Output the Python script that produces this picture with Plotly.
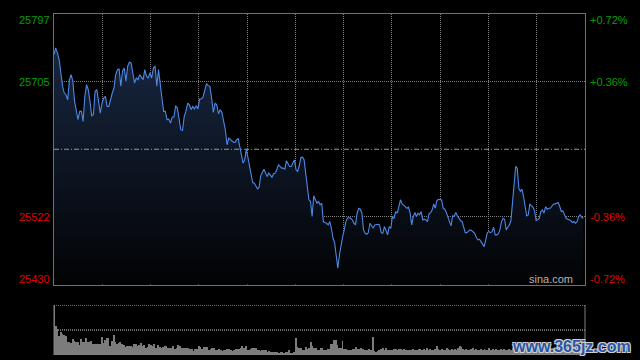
import numpy as np
import plotly.graph_objects as go

PREV_CLOSE = 25613.5
SESSION_MINUTES = 330

# Price readings (index points), morning / midday / afternoon portions
price_am = [25741.9, 25751.0, 25744.2, 25735.1, 25717.0, 25698.9, 25689.8, 25687.5, 25680.7, 25707.9,
            25714.7, 25705.7, 25678.5, 25667.2, 25653.6, 25664.9, 25664.9, 25651.3, 25685.3, 25701.1,
            25694.3, 25678.5, 25659.0, 25660.4, 25692.1, 25694.3, 25678.5, 25662.6, 25676.2, 25683.0,
            25685.3, 25671.7, 25671.7, 25683.0, 25689.8, 25696.6, 25714.7, 25721.5, 25722.4, 25698.9,
            25719.3, 25723.8, 25705.7, 25726.1, 25731.5, 25730.6, 25714.7, 25703.4, 25710.2, 25707.9,
            25714.7, 25710.2, 25707.9, 25721.5, 25712.5, 25710.2, 25717.0, 25710.2, 25723.8, 25726.1,
            25698.9, 25721.5, 25698.9, 25683.0, 25664.9, 25664.9, 25653.6, 25654.5, 25649.0, 25657.2,
            25657.2, 25672.6, 25669.4, 25655.8, 25640.0, 25639.1, 25658.1, 25664.9, 25676.2, 25673.9,
            25667.2, 25671.7, 25668.1, 25672.6, 25668.1, 25681.6, 25681.6, 25684.4, 25692.1, 25702.5,
            25699.8, 25698.9, 25683.0, 25663.5, 25676.2, 25673.9, 25661.7, 25667.2, 25663.5, 25651.3,
            25640.0, 25619.6, 25628.6, 25626.4, 25624.1, 25622.7]
price_mid = [25622.8, 25626.4, 25627.8, 25615.1, 25601.5, 25594.7, 25599.2, 25612.8, 25602.9, 25590.2,
             25576.6, 25568.4, 25567.5, 25563.0, 25559.8, 25562.1, 25577.5, 25582.0, 25586.5, 25581.1,
             25576.6, 25581.1, 25577.5, 25575.7, 25580.2, 25581.1, 25585.6, 25592.4, 25590.2, 25587.9,
             25587.9, 25586.5, 25597.9, 25594.7, 25590.2, 25590.2, 25593.8, 25599.2, 25585.6, 25583.4,
             25591.1, 25602.4, 25602.8, 25599.2, 25581.1, 25563.0, 25544.9, 25542.6, 25522.2, 25550.3,
             25544.9, 25540.3, 25542.6, 25538.1, 25540.3, 25515.4, 25514.1, 25513.1, 25510.9, 25515.4,
             25506.3, 25492.7, 25486.8, 25467.8, 25452.0, 25470.1, 25483.7, 25495.0, 25504.1, 25515.4,
             25519.9, 25520.8, 25519.9, 25517.7, 25513.1, 25510.9, 25526.7, 25533.5, 25532.2, 25526.7,
             25504.1, 25499.5, 25498.2, 25500.5, 25513.1, 25508.6, 25506.3, 25510.9, 25511.8, 25511.8,
             25510.9, 25500.5, 25499.5, 25508.6, 25503.2, 25497.3, 25508.6, 25506.3, 25522.2, 25519.9,
             25529.0, 25526.7, 25535.8, 25544.9, 25539.4, 25538.1, 25535.8, 25533.5, 25534.9, 25527.6]
price_pm = [25510.9, 25522.2, 25527.6, 25522.2, 25526.7, 25524.5, 25529.0, 25517.7, 25518.6, 25517.7,
            25515.4, 25525.8, 25527.6, 25531.3, 25539.4, 25533.5, 25543.9, 25545.7, 25545.7, 25544.8,
            25533.5, 25532.2, 25527.6, 25519.9, 25515.4, 25509.5, 25523.1, 25522.2, 25527.6, 25523.1,
            25519.9, 25516.8, 25515.4, 25506.3, 25500.4, 25500.4, 25501.8, 25504.1, 25503.2, 25501.8,
            25499.5, 25494.1, 25490.5, 25491.4, 25488.2, 25483.7, 25481.4, 25490.5, 25500.4, 25501.8,
            25500.4, 25501.8, 25507.7, 25497.3, 25497.3, 25498.6, 25504.1, 25515.4, 25519.9, 25518.6,
            25504.1, 25507.7, 25510.9, 25516.8, 25540.3, 25567.5, 25590.2, 25587.9, 25560.7, 25556.2,
            25559.3, 25549.4, 25535.8, 25523.1, 25524.5, 25539.4, 25536.7, 25534.9, 25530.3, 25516.8,
            25517.7, 25519.9, 25529.0, 25531.3, 25526.7, 25535.8, 25532.2, 25533.5, 25533.5, 25535.8,
            25539.0, 25539.4, 25540.3, 25541.2, 25535.8, 25529.0, 25529.9, 25525.8, 25519.9, 25518.6,
            25517.7, 25516.8, 25514.1, 25515.4, 25513.1, 25515.4, 25522.2, 25524.5, 25520.8, 25519.9]
# time span (minutes from open) covered by each portion of readings
price_spans = [(0.0, 111.8), (112.5, 221.3), (222.3, 329.0)]

# Volume readings (relative units)
vol_a = [50, 29, 26, 19, 23, 21, 20, 19, 13, 13, 12, 16, 14, 13, 13, 10, 16, 13, 13, 17,
         13, 13, 14, 11, 11, 11, 11, 11, 18, 12, 15, 17, 17, 9, 14, 20, 13, 11, 12, 13,
         11, 10, 8, 9, 9, 9, 8, 11, 11, 9, 10, 12, 9, 10, 7, 8, 11, 10, 9, 11,
         7, 10, 8, 7, 8, 9, 9, 7, 7, 7, 9, 6, 7, 10, 9, 7, 7, 7, 7, 7,
         6, 6, 4, 6, 6, 9, 8, 6, 8, 8, 8, 5, 6, 7, 7, 5, 5, 6]
vol_b = [5, 4, 5, 5, 6, 6, 5, 4, 5, 6, 6, 6, 7, 9, 7, 9, 5, 5, 6, 7,
         7, 7, 5, 5, 4, 5, 5, 5, 3, 4, 3, 3, 3, 3, 3, 2, 3, 3, 2, 3,
         3, 5, 2, 2, 3, 17, 8, 7, 7, 5, 5, 8, 6, 7, 13, 9, 7, 7, 5, 5,
         7, 7, 5, 5, 6, 6, 11, 11, 15, 15, 10, 7, 7, 14, 6, 6, 5, 5, 5, 6,
         6, 8, 6, 6, 7, 6, 5, 5, 5, 6, 5, 18, 4, 3, 4, 5, 6, 7, 5, 7,
         5, 5, 5, 5, 6, 6, 5, 6, 6, 5, 6, 5, 5, 5, 5, 6, 5, 5, 5, 6]
vol_c = [6, 5, 6, 5, 7, 5, 6, 5, 5, 6, 9, 6, 5, 6, 5, 5, 7, 6, 5, 6,
         5, 6, 5, 7, 9, 8, 6, 5, 6, 5, 5, 6, 7, 5, 6, 5, 5, 6, 5, 6,
         5, 5, 7, 5, 6, 5, 6, 5, 5, 6, 5, 6, 5, 5, 6, 5, 7, 5, 6, 5,
         5, 5, 6, 5, 6, 5, 5, 4, 5, 6, 5, 5, 6, 5, 4, 5, 6, 5, 5, 4,
         5, 6, 5, 5, 4, 5, 5, 6, 5, 5, 4, 5, 6, 5, 5, 4, 5, 6, 5, 5]
vol_spans = [(0.0, 102.6), (103.6, 227.0), (227.6, 329.0)]

left_tick_vals = [25797, 25705, 25522, 25430]
right_tick_text = ["+0.72%", "+0.36%", "-0.36%", "-0.72%"]
tick_colors = ["#00a000", "#00a000", "#e00000", "#e00000"]
tick_shift = [-6, 0, 0, 6]
grid_minutes = [30, 60, 90, 120, 150, 180, 210, 240, 270, 300]
VOL_MAX = 50


def times_for(parts, spans):
    out = []
    for part, (a, b) in zip(parts, spans):
        out.extend(np.linspace(a, b, len(part)).tolist())
    return out


prices = price_am + price_mid + price_pm
volumes = vol_a + vol_b + vol_c
t_price = times_for([price_am, price_mid, price_pm], price_spans)
t_vol = times_for([vol_a, vol_b, vol_c], vol_spans)

fig = go.Figure()
fig.add_trace(go.Scatter(
    x=t_price, y=prices, mode="lines",
    line=dict(color="#4d88e6", width=1.1),
    fill="tozeroy",
    fillgradient=dict(type="vertical",
                      colorscale=[[0, "#020304"], [1, "#182742"]],
                      start=left_tick_vals[3], stop=25760),
    xaxis="x", yaxis="y", hoverinfo="skip"))
fig.add_trace(go.Bar(
    x=t_vol, y=volumes, width=0.6, marker=dict(color="#7c7c7c", line=dict(width=0)),
    xaxis="x2", yaxis="y2", hoverinfo="skip"))

grid_style = dict(showgrid=True, gridcolor="#808080", griddash="1px,1px", gridwidth=1)
main_bottom = 0.2067
vol_top = 0.1466

fig.update_layout(
    width=640, height=360,
    margin=dict(l=54, r=55, t=14, b=5),
    paper_bgcolor="#000000", plot_bgcolor="#000000",
    showlegend=False,
    xaxis=dict(domain=[0, 1], range=[0, SESSION_MINUTES], anchor="y",
               tickvals=grid_minutes, showticklabels=False, ticks="",
               showline=True, mirror=True, linecolor="#707070", linewidth=1,
               zeroline=False, **grid_style),
    yaxis=dict(domain=[main_bottom, 1], range=[left_tick_vals[3], left_tick_vals[0]],
               tickvals=[left_tick_vals[1], left_tick_vals[2]], showticklabels=False, ticks="",
               showline=True, mirror=True, linecolor="#707070", linewidth=1,
               zeroline=False, **grid_style),
    xaxis2=dict(domain=[0, 1], range=[0, SESSION_MINUTES], anchor="y2",
                showgrid=False, showticklabels=False, zeroline=False, ticks=""),
    yaxis2=dict(domain=[0, vol_top], range=[0, VOL_MAX], showgrid=False,
                showticklabels=False, zeroline=False, ticks=""),
)

shapes = [
    dict(type="line", xref="paper", x0=0, x1=1, yref="y", y0=PREV_CLOSE, y1=PREV_CLOSE,
         line=dict(color="#9a9a9a", width=1, dash="5px,2px,1px,2px")),
]
for v in [0, VOL_MAX / 2, VOL_MAX]:
    shapes.append(dict(type="line", xref="paper", x0=0, x1=1, yref="y2", y0=v, y1=v,
                       line=dict(color="#8a8a8a", width=1.3, dash="1px,1px")))
for xp in [0, 1]:
    shapes.append(dict(type="line", xref="paper", x0=xp, x1=xp, yref="y2", y0=0, y1=VOL_MAX,
                       line=dict(color="#808080", width=1)))
fig.update_layout(shapes=shapes)

font_family = "Liberation Sans, Arial, sans-serif"
annotations = []
for val, rt, col, sh in zip(left_tick_vals, right_tick_text, tick_colors, tick_shift):
    annotations.append(dict(xref="paper", x=0, xanchor="right", xshift=-2,
                            yref="y", y=val, yanchor="middle", yshift=sh,
                            text=str(val), showarrow=False,
                            font=dict(family=font_family, size=11, color=col)))
    annotations.append(dict(xref="paper", x=1, xanchor="left", xshift=3,
                            yref="y", y=val, yanchor="middle", yshift=sh,
                            text=rt, showarrow=False,
                            font=dict(family=font_family, size=11, color=col)))
annotations.append(dict(xref="paper", x=1, xanchor="right", xshift=-10,
                        yref="y", y=left_tick_vals[3], yanchor="middle", yshift=6,
                        text="sina.com", showarrow=False,
                        font=dict(family=font_family, size=11, color="#b4b4b4")))
annotations.append(dict(xref="paper", x=1.0904, xanchor="right",
                        yref="paper", y=0.0235, yanchor="middle",
                        text="www.365jz.com", showarrow=False,
                        font=dict(family=font_family, size=16, color="#2a55a5", weight=700,
                                  shadow="1px 1px 0px #d0d0d0, -1px -1px 0px #d0d0d0, "
                                         "1px -1px 0px #d0d0d0, -1px 1px 0px #d0d0d0")))
fig.update_layout(annotations=annotations)

fig.write_html("out.html", config={"displayModeBar": False},
               post_script="document.body.style.margin='0';document.body.style.overflow='hidden';")
